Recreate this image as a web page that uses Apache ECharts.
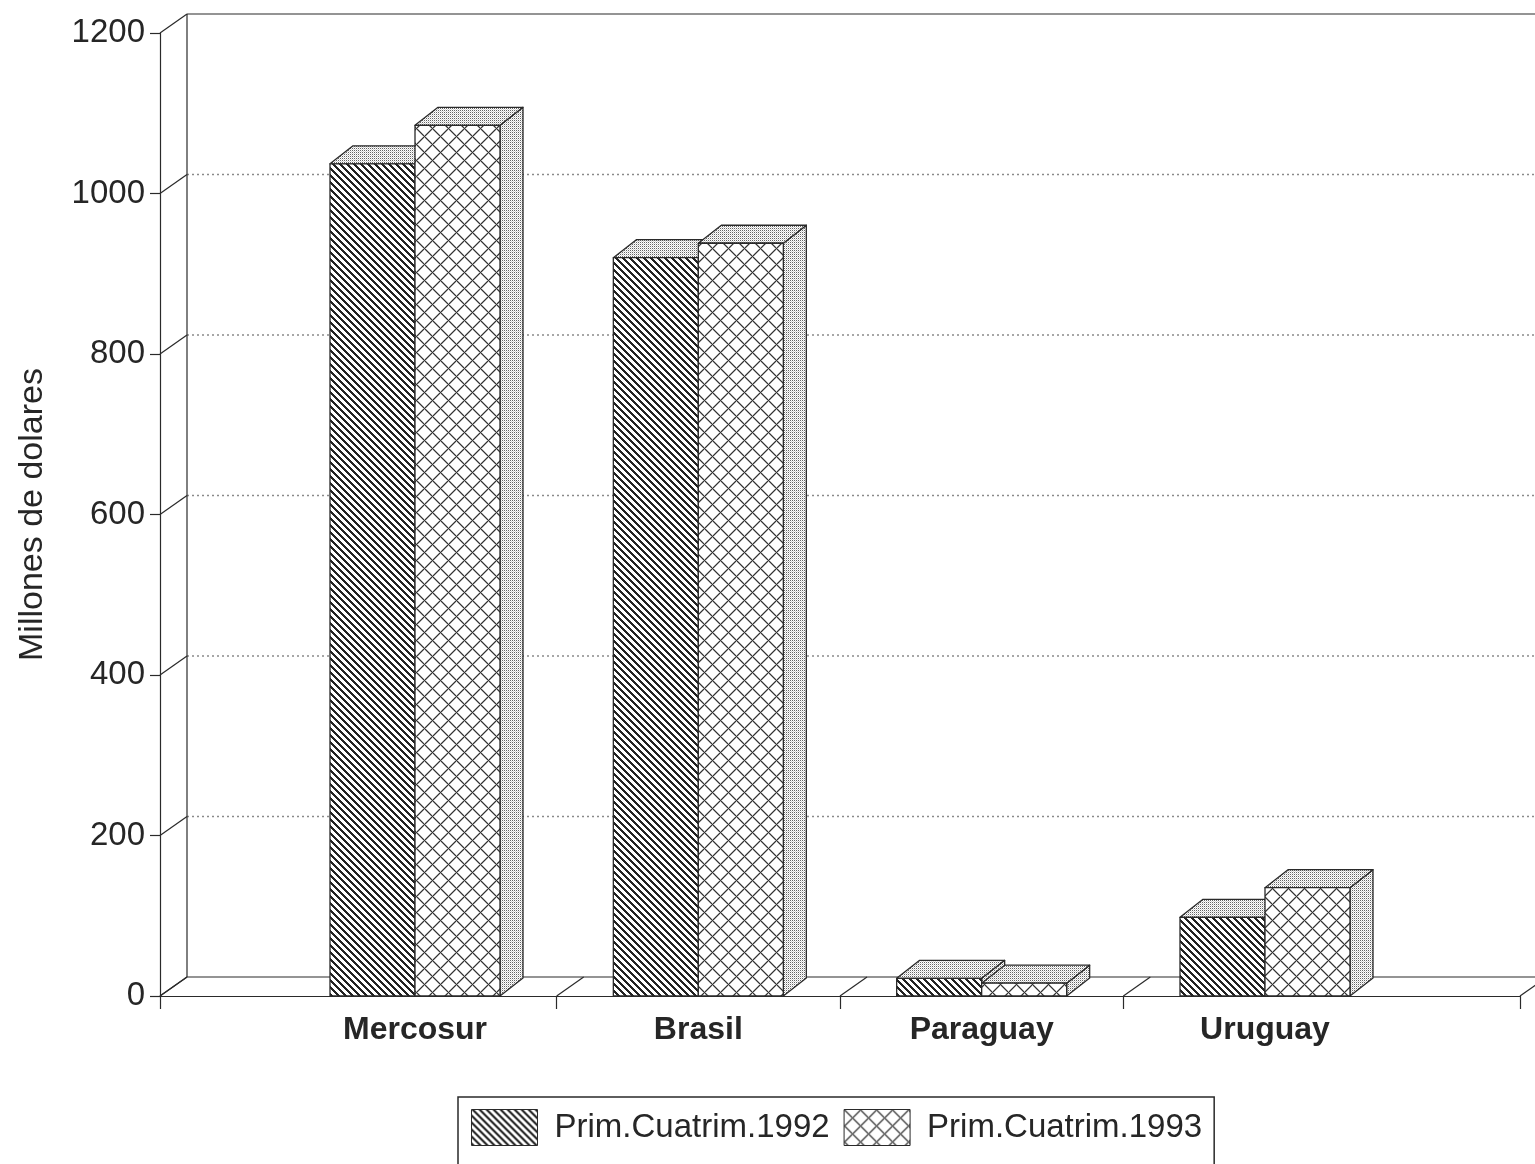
<!DOCTYPE html>
<html>
<head>
<meta charset="utf-8">
<script src="https://cdn.jsdelivr.net/npm/echarts@6/dist/echarts.min.js"></script>
<style>
html, body { margin: 0; padding: 0; background: #fff; }
#chart { width: 1535px; height: 1164px; }
</style>
</head>
<body>
<div id="chart"></div>
<script>
// data
var categories = ['Mercosur', 'Brasil', 'Paraguay', 'Uruguay']
var values1992 = [1037, 920, 22, 98]
var values1993 = [1085, 938, 16, 135]
var seriesNames = ['Prim.Cuatrim.1992', 'Prim.Cuatrim.1993']
var yTicks = [0, 200, 400, 600, 800, 1000, 1200]
var xBounds = [-0.9, 0.5, 1.5, 2.5, 3.9]

var X_MIN = -0.9
var X_MAX = 3.9
var WALL_DX = 27
var WALL_DY = 19
var BAR_DX = 23
var BAR_DY = 18
var BAR_W = 0.3
var INK = '#2a2a2a'
var TEXT = '#262626'
var FONT = 'Liberation Sans, Arial, sans-serif'

function makePattern(size, shade) {
  var c = document.createElement('canvas')
  c.width = size
  c.height = size
  var ctx = c.getContext('2d')
  var img = ctx.createImageData(size, size)
  for (var y = 0; y < size; y++) {
    for (var x = 0; x < size; x++) {
      var g = shade(x, y, size)
      var k = (y * size + x) * 4
      img.data[k] = img.data[k + 1] = img.data[k + 2] = g
      img.data[k + 3] = 255
    }
  }
  ctx.putImageData(img, 0, 0)
  return { image: c, repeat: 'repeat' }
}

// "\\\" stripes
var stripes = makePattern(7, function(x, y, s) {
  var d = ((x - y) % s + s) % s
  return d < 3 ? 35 : 255
})
// diamond cross hatch
var crossHatch = makePattern(16, function(x, y, s) {
  var d1 = (x + y) % s
  var d2 = ((x - y) % s + s) % s
  var m = Math.min(d1, s - d1, d2, s - d2)
  return m === 0 ? 50 : (m === 1 ? 175 : 255)
})
// light dotted grey for tops and sides
var stipple = makePattern(2, function(x, y) {
  if (x === 0 && y === 0) return 100
  if (x === 1 && y === 1) return 210
  return 255
})

function renderWall(params, api) {
  var v = api.value(1)
  var p = api.coord([X_MIN, v])
  var q = api.coord([X_MAX, v])
  var edge = v === yTicks[0] || v === yTicks[yTicks.length - 1]
  return {
    type: 'group',
    children: [
      { type: 'line', shape: { x1: p[0], y1: p[1], x2: p[0] + WALL_DX, y2: p[1] - WALL_DY },
        style: { stroke: INK, lineWidth: 1.2 } },
      { type: 'line', shape: { x1: p[0] + WALL_DX, y1: p[1] - WALL_DY, x2: q[0] + WALL_DX, y2: q[1] - WALL_DY },
        style: edge ? { stroke: INK, lineWidth: 1.2 } : { stroke: '#8a8a8a', lineWidth: 1.4, lineDash: [2, 3] } }
    ]
  }
}

function renderFloor(params, api) {
  var b = api.value(0)
  var p = api.coord([b, 0])
  var children = [
    { type: 'line', shape: { x1: p[0], y1: p[1], x2: p[0] + WALL_DX, y2: p[1] - WALL_DY },
      style: { stroke: INK, lineWidth: 1.2 } }
  ]
  if (b === X_MIN) {
    var t = api.coord([X_MIN, yTicks[yTicks.length - 1]])
    children.push({ type: 'line',
      shape: { x1: p[0] + WALL_DX, y1: p[1] - WALL_DY, x2: t[0] + WALL_DX, y2: t[1] - WALL_DY },
      style: { stroke: INK, lineWidth: 1.2 } })
  }
  return { type: 'group', children: children }
}

function barRenderer(shift, frontFill) {
  return function(params, api) {
    var i = api.value(0)
    var v = api.value(1)
    var bl = api.coord([i + shift, 0])
    var tr = api.coord([i + shift + BAR_W, v])
    var x0 = bl[0]
    var y0 = bl[1]
    var x1 = tr[0]
    var y1 = tr[1]
    var line = { stroke: INK, lineWidth: 1.3, lineJoin: 'round' }
    return {
      type: 'group',
      children: [
        { type: 'polygon',
          shape: { points: [[x1, y1], [x1 + BAR_DX, y1 - BAR_DY], [x1 + BAR_DX, y0 - BAR_DY], [x1, y0]] },
          style: Object.assign({ fill: stipple }, line) },
        { type: 'polygon',
          shape: { points: [[x0, y1], [x0 + BAR_DX, y1 - BAR_DY], [x1 + BAR_DX, y1 - BAR_DY], [x1, y1]] },
          style: Object.assign({ fill: stipple }, line) },
        { type: 'rect',
          shape: { x: x0, y: y1, width: x1 - x0, height: y0 - y1 },
          style: Object.assign({ fill: frontFill }, line) }
      ]
    }
  }
}

var chart = echarts.init(document.getElementById('chart'))
chart.setOption({
  backgroundColor: '#fff',
  animation: false,
  grid: { left: 160, right: 15, top: 33, bottom: 168, outerBoundsMode: 'none' },
  legend: {
    data: [
      { name: seriesNames[0], itemStyle: { color: stripes, borderColor: INK, borderWidth: 1 } },
      { name: seriesNames[1], itemStyle: { color: crossHatch, borderColor: INK, borderWidth: 1 } }
    ],
    left: 458,
    top: 1097,
    icon: 'rect',
    itemWidth: 66,
    itemHeight: 36,
    itemGap: 14,
    padding: [12, 12, 30, 13],
    borderColor: INK,
    borderWidth: 1.5,
    selectedMode: false,
    textStyle: { fontSize: 33, color: TEXT, fontFamily: FONT, padding: [0, 0, 0, 12] }
  },
  xAxis: {
    type: 'value',
    min: X_MIN,
    max: X_MAX,
    axisLine: { show: true, onZero: false, lineStyle: { color: INK, width: 1.2 } },
    axisTick: { show: true, customValues: xBounds, length: 13, lineStyle: { color: INK, width: 1.2 } },
    axisLabel: {
      customValues: [0, 1, 2, 3],
      formatter: function(v) { return categories[Math.round(v)] },
      fontSize: 32,
      fontWeight: 'bold',
      fontFamily: FONT,
      color: TEXT,
      margin: 18
    },
    splitLine: { show: false }
  },
  yAxis: {
    type: 'value',
    min: 0,
    max: 1200,
    interval: 200,
    name: 'Millones de dolares',
    nameLocation: 'middle',
    nameGap: 110,
    nameTextStyle: { fontSize: 34, color: TEXT, fontFamily: FONT },
    axisLine: { show: true, onZero: false, lineStyle: { color: INK, width: 1.2 } },
    axisTick: { show: true, length: 10, lineStyle: { color: INK, width: 1.2 } },
    axisLabel: {
      formatter: function(v) { return String(v) },
      fontSize: 33,
      color: TEXT,
      fontFamily: FONT,
      margin: 15
    },
    splitLine: { show: false }
  },
  series: [
    {
      type: 'custom',
      name: 'wall',
      z: 1,
      silent: true,
      renderItem: renderWall,
      encode: { x: 0, y: 1 },
      data: yTicks.map(function(v) { return [X_MIN, v] })
    },
    {
      type: 'custom',
      name: 'floor',
      z: 1,
      silent: true,
      renderItem: renderFloor,
      encode: { x: 0, y: 1 },
      data: xBounds.map(function(b) { return [b, 0] })
    },
    {
      type: 'custom',
      name: seriesNames[0],
      z: 2,
      itemStyle: { color: stripes },
      renderItem: barRenderer(-BAR_W, stripes),
      encode: { x: 0, y: 1 },
      data: values1992.map(function(v, i) { return [i, v] })
    },
    {
      type: 'custom',
      name: seriesNames[1],
      z: 3,
      itemStyle: { color: crossHatch },
      renderItem: barRenderer(0, crossHatch),
      encode: { x: 0, y: 1 },
      data: values1993.map(function(v, i) { return [i, v] })
    }
  ]
})
window.addEventListener('resize', function() {
  chart.resize()
})
</script>
</body>
</html>
